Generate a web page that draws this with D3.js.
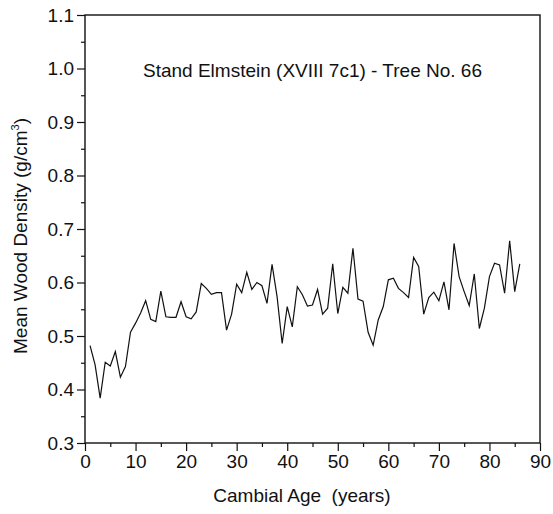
<!DOCTYPE html>
<html>
<head>
<meta charset="utf-8">
<script src="https://cdn.jsdelivr.net/npm/d3@7"></script>
<style>
  body { margin: 0; background: #fff; }
  svg text { font-family: "Liberation Sans", Arial, sans-serif; fill: #111; }
</style>
</head>
<body>
<svg id="chart" width="553" height="514"></svg>
<script>
// cambial age (years) and mean wood density (g/cm3)
const ages = d3.range(1, 87);
const density = [
  0.482, 0.446, 0.384, 0.451, 0.444, 0.471, 0.423, 0.443, 0.507, 0.524,
  0.543, 0.566, 0.531, 0.527, 0.584, 0.536, 0.535, 0.535, 0.564, 0.536,
  0.532, 0.545, 0.598, 0.589, 0.578, 0.581, 0.581, 0.511, 0.541, 0.597,
  0.581, 0.619, 0.587, 0.600, 0.594, 0.561, 0.634, 0.573, 0.486, 0.555,
  0.517, 0.592, 0.577, 0.556, 0.558, 0.587, 0.541, 0.552, 0.635, 0.542,
  0.591, 0.580, 0.664, 0.569, 0.565, 0.507, 0.483, 0.530, 0.555, 0.605,
  0.608, 0.589, 0.581, 0.572, 0.647, 0.630, 0.541, 0.572, 0.582, 0.566,
  0.601, 0.549, 0.673, 0.611, 0.583, 0.557, 0.616, 0.514, 0.552, 0.611,
  0.636, 0.633, 0.580, 0.678, 0.583, 0.635
];
const xTicks = d3.range(0, 91, 10);
const yTicks = d3.range(3, 12).map(d => d / 10);
const chartTitle = "Stand Elmstein (XVIII 7c1) - Tree No. 66";

const data = ages.map((a, i) => ({ age: a, val: density[i] }));

const svg = d3.select("#chart");
const margin = { top: 15, right: 13, bottom: 71, left: 85 };
const width = 553 - margin.left - margin.right;
const height = 514 - margin.top - margin.bottom;
const fs = 19;

const g = svg.append("g")
  .attr("transform", `translate(${margin.left},${margin.top})`);

const x = d3.scaleLinear().domain([0, 90]).range([0, width]);
const y = d3.scaleLinear().domain([0.3, 1.1]).range([height, 0]);

// minor ticks
g.append("g")
  .attr("transform", `translate(0,${height})`)
  .call(d3.axisBottom(x).tickValues(d3.range(5, 90, 10)).tickSize(4).tickFormat(""))
  .call(a => a.select(".domain").remove());
g.append("g")
  .call(d3.axisLeft(y).tickValues(d3.range(0.35, 1.1, 0.1)).tickSize(4).tickFormat(""))
  .call(a => a.select(".domain").remove());

// major ticks
const xAxis = g.append("g")
  .attr("transform", `translate(0,${height})`)
  .call(d3.axisBottom(x).tickValues(xTicks).tickSize(8).tickPadding(4).tickFormat(d3.format("d")));
const yAxis = g.append("g")
  .call(d3.axisLeft(y).tickValues(yTicks).tickSize(8).tickPadding(3).tickFormat(d3.format(".1f")));

[xAxis, yAxis].forEach(a => {
  a.selectAll("text").attr("font-size", fs).attr("fill", "#111");
  a.select(".domain").remove();
});
g.selectAll(".tick line").attr("stroke", "#111").attr("stroke-width", 1.2);

// frame
g.append("rect")
  .attr("width", width)
  .attr("height", height)
  .attr("fill", "none")
  .attr("stroke", "#111")
  .attr("stroke-width", 1.4);

// data line
const line = d3.line()
  .x(d => x(d.age))
  .y(d => y(d.val));

g.append("path")
  .datum(data)
  .attr("fill", "none")
  .attr("stroke", "#111")
  .attr("stroke-width", 1.2)
  .attr("d", line);

// title inside plot
g.append("text")
  .attr("x", width / 2)
  .attr("y", 62)
  .attr("text-anchor", "middle")
  .attr("font-size", fs)
  .text(chartTitle);

// axis labels
svg.append("text")
  .attr("x", 302)
  .attr("y", 502)
  .attr("text-anchor", "middle")
  .attr("font-size", fs)
  .attr("xml:space", "preserve")
  .text("Cambial Age  (years)");

const yl = svg.append("text")
  .attr("transform", `translate(27,236) rotate(-90)`)
  .attr("text-anchor", "middle")
  .attr("font-size", fs);
yl.append("tspan").text("Mean Wood Density (g/cm");
yl.append("tspan").attr("font-size", 11).attr("dy", -8).text("3");
yl.append("tspan").attr("dy", 8).text(")");
</script>
</body>
</html>
